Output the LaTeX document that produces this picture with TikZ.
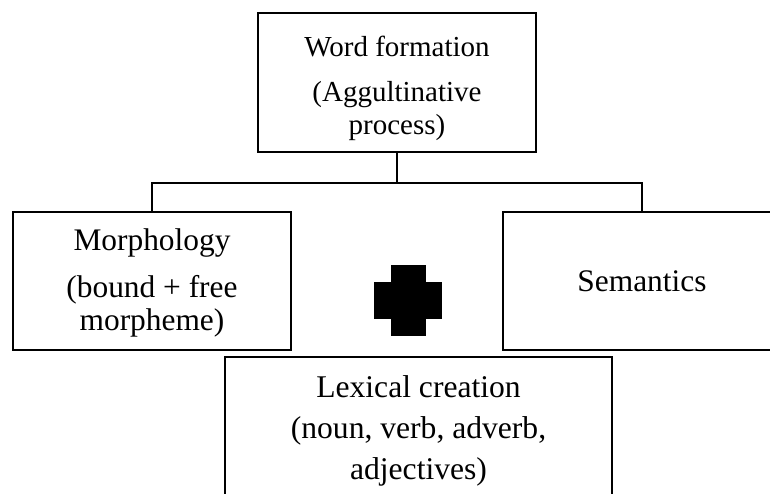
\documentclass[tikz,border=0pt]{standalone}
\usepackage{fontspec}
\setmainfont{Liberation Serif}
\usepackage{tikz}
\tikzset{
  wordbox/.style = {shape=rectangle, draw, align=center, anchor=north,
                    line width=2pt, inner sep=0pt,
                    minimum width=278pt, minimum height=138pt,
                    font=\fontsize{31.4}{33}\selectfont},
  rootbox/.style = {wordbox, font=\fontsize{29}{33}\selectfont},
  lexbox/.style  = {wordbox, minimum width=387pt,
                    font=\fontsize{31.6}{41}\selectfont},
  plusbar/.style = {fill=black}
}

\begin{document}
\begin{tikzpicture}
 [edge from parent/.style={draw, line width=2pt},
  edge from parent path={(\tikzparentnode.south) -- +(0,-30pt)
                         -| (\tikzchildnode.north)},
  level distance=128.5pt, sibling distance=490pt]
  \useasboundingbox (0,0) rectangle (770pt,-493pt);

  \node [rootbox] (wf) at (397pt,-12pt)
    {\rule{0pt}{43pt}Word formation\\[12pt](Aggultinative\\process)\rule[-18pt]{0pt}{18pt}}
    child { node [wordbox] (morph)
      {\rule{0pt}{38pt}Morphology\\[14pt](bound + free\\morpheme)\rule[-20pt]{0pt}{20pt}} }
    child { node [wordbox] (sem) {Semantics} };

  % the plus between the two lower boxes
  \fill [plusbar] (391pt,-265pt) rectangle (426pt,-336pt);
  \fill [plusbar] (374pt,-282pt) rectangle (442pt,-319pt);

  \node [lexbox] (lex) at (418.5pt,-356pt)
    {\rule{0pt}{40pt}Lexical creation\\(noun, verb, adverb,\\adjectives)\rule[-40pt]{0pt}{40pt}};
\end{tikzpicture}
\end{document}
